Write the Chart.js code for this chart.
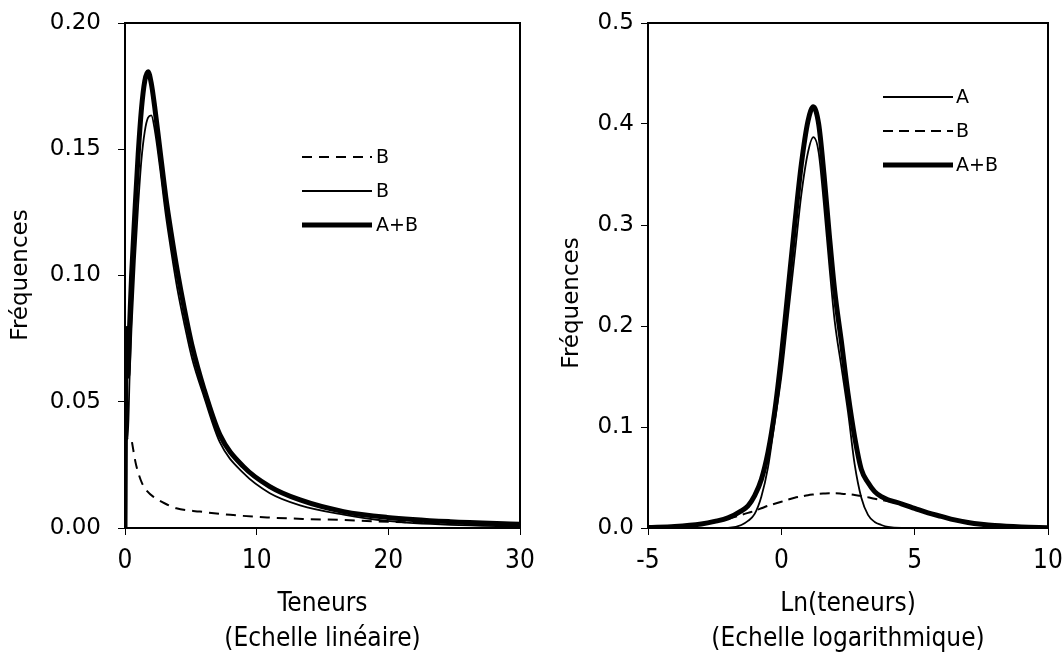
<!DOCTYPE html>
<html><head><meta charset="utf-8">
<script src="https://cdn.jsdelivr.net/npm/chart.js@4.4.1/dist/chart.umd.min.js"></script>
<style>
html,body{margin:0;padding:0;background:#fff;}
#wrap{position:relative;width:1062px;height:657px;overflow:hidden;}
.c{position:absolute;top:0;height:657px;}
</style></head><body>
<div id="wrap">
<div class="c" style="left:0;width:560px"><canvas id="left" width="560" height="657"></canvas></div>
<div class="c" style="left:531px;width:531px"><canvas id="right" width="531" height="657"></canvas></div>
</div>
<script>
// ---------- Left chart: linear scale ----------
const linX      = [0, 0.08, 0.2, 0.35, 0.5, 0.75, 1.0, 1.25, 1.5, 1.75, 2.0, 2.25, 2.65, 3.1, 3.5, 4.0, 4.5, 5.1, 6.0, 7.2, 9, 11, 13.3, 16.6, 19.9, 24.7, 30];
const linAB     = [0, 0.079, 0.06, 0.08, 0.10, 0.125, 0.148, 0.166, 0.177, 0.1807, 0.176, 0.167, 0.150, 0.131, 0.117, 0.101, 0.087, 0.072, 0.055, 0.037, 0.0243, 0.0164, 0.0111, 0.0065, 0.0042, 0.0025, 0.0015];
const linA      = [0, 0.05, 0.035, 0.06, 0.08, 0.106, 0.128, 0.146, 0.157, 0.1625, 0.1634, 0.158, 0.143, 0.124, 0.110, 0.094, 0.081, 0.067, 0.052, 0.034, 0.0217, 0.0138, 0.009, 0.0053, 0.0028, 0.0012, 0.0006];
const linBX     = [0.53, 0.8, 1.0, 1.3, 1.7, 2.15, 3.0, 3.9, 5.7, 8, 10.8, 13.5, 16.3, 18.8, 22, 26, 30];
const linB      = [0.034, 0.026, 0.022, 0.0177, 0.0145, 0.0124, 0.0098, 0.0078, 0.0065, 0.0052, 0.0042, 0.0036, 0.0032, 0.0027, 0.0022, 0.0017, 0.0013];
const linLabels = {dashed: 'B', thin: 'B', thick: 'A+B'};
const linXTitle = ['Teneurs', '(Echelle linéaire)'];

// ---------- Right chart: log scale ----------
const logX      = [-5, -4, -3, -2.5, -2, -1.5, -1.25, -1, -0.75, -0.5, -0.25, 0, 0.25, 0.5, 0.75, 1, 1.2, 1.4, 1.6, 1.8, 2, 2.25, 2.5, 2.75, 3, 3.25, 3.5, 3.75, 4, 4.5, 5, 5.5, 6, 6.5, 7, 7.5, 8, 9, 10];
const logA      = [0, 0, 0, 0, 0, 0.003, 0.007, 0.014, 0.031, 0.06, 0.105, 0.15, 0.21, 0.27, 0.33, 0.372, 0.387, 0.372, 0.32, 0.26, 0.205, 0.16, 0.115, 0.063, 0.03, 0.013, 0.006, 0.003, 0.001, 0, 0, 0, 0, 0, 0, 0, 0, 0, 0];
const logB      = [0.0005, 0.0015, 0.004, 0.0062, 0.009, 0.013, 0.015, 0.017, 0.0195, 0.022, 0.024, 0.026, 0.028, 0.030, 0.0313, 0.0325, 0.0332, 0.0338, 0.0341, 0.0343, 0.0343, 0.034, 0.0335, 0.0327, 0.0318, 0.0305, 0.029, 0.0278, 0.0265, 0.0235, 0.0195, 0.015, 0.0115, 0.008, 0.0055, 0.0037, 0.0024, 0.001, 0.0003];
const logAB     = [0.0005, 0.0015, 0.004, 0.0065, 0.010, 0.017, 0.022, 0.032, 0.048, 0.075, 0.115, 0.17, 0.235, 0.30, 0.36, 0.403, 0.417, 0.40, 0.35, 0.29, 0.235, 0.185, 0.133, 0.09, 0.058, 0.045, 0.036, 0.031, 0.028, 0.024, 0.0195, 0.015, 0.0115, 0.008, 0.0055, 0.0037, 0.0024, 0.001, 0.0003];
const logLabels = {thin: 'A', dashed: 'B', thick: 'A+B'};
const logXTitle = ['Ln(teneurs)', '(Echelle logarithmique)'];

const yTitle = 'Fréquences';

// ---------- helpers ----------
const pts = (xs, ys) => xs.map((x, i) => ({x: x, y: ys[i]}));
const NARROW = "'Liberation Sans Narrow', 'DejaVu Sans Condensed', 'Liberation Sans', sans-serif";
const SANS = "'DejaVu Sans', 'Liberation Sans', sans-serif";

const framePlugin = {
  id: 'frame',
  beforeDatasetsDraw(chart) {
    const a = chart.chartArea, ctx = chart.ctx;
    ctx.save();
    ctx.strokeStyle = '#000'; ctx.lineWidth = 2;
    ctx.strokeRect(a.left, a.top, a.right - a.left, a.bottom - a.top);
    ctx.restore();
  }
};
const legendPlugin = {
  id: 'inLegend',
  afterDatasetsDraw(chart, args, o) {
    const ctx = chart.ctx;
    ctx.save();
    o.items.forEach((it, i) => {
      const ds = chart.data.datasets[it];
      const y = o.y + i * o.rowGap;
      ctx.beginPath();
      ctx.setLineDash(ds.borderDash || []);
      ctx.lineWidth = ds.borderWidth;
      ctx.strokeStyle = ds.borderColor;
      ctx.moveTo(o.x, y);
      ctx.lineTo(o.x + o.lineLen, y);
      ctx.stroke();
      ctx.setLineDash([]);
      ctx.fillStyle = '#000';
      ctx.font = o.font;
      ctx.textBaseline = 'middle';
      ctx.textAlign = 'left';
      ctx.fillText(ds.label, o.x + o.textX, y + 1);
    });
    ctx.restore();
  }
};
const yTitlePlugin = {
  id: 'yTitle',
  afterDraw(chart, args, o) {
    const ctx = chart.ctx;
    ctx.save();
    ctx.translate(o.x, o.y);
    ctx.rotate(-Math.PI / 2);
    ctx.fillStyle = '#000';
    ctx.font = o.font;
    ctx.textAlign = 'center';
    ctx.textBaseline = 'middle';
    ctx.fillText(o.text, 0, 0);
    ctx.restore();
  }
};

function makeChart(id, cfg) {
  const grid = {display: true, drawOnChartArea: false, drawTicks: true, tickLength: 7, color: '#000', lineWidth: 1};
  return new Chart(document.getElementById(id), {
    type: 'line',
    data: {datasets: cfg.datasets},
    plugins: [framePlugin, legendPlugin, yTitlePlugin],
    options: {
      responsive: false, animation: false, devicePixelRatio: 1,
      layout: {padding: cfg.padding},
      elements: {point: {radius: 0}, line: {cubicInterpolationMode: 'monotone'}},
      plugins: {
        legend: {display: false}, tooltip: {enabled: false},
        inLegend: cfg.legend,
        yTitle: cfg.yTitle
      },
      scales: {
        x: {
          type: 'linear', min: cfg.xMin, max: cfg.xMax,
          ticks: {stepSize: cfg.xStep, color: '#000', font: {family: NARROW, size: 26}, padding: 11, maxRotation: 0},
          grid: grid, border: {display: false},
          title: {display: true, text: cfg.xTitle, color: '#000', font: {family: NARROW, size: 26, lineHeight: 1.35}, padding: 0},
          afterFit: s => { s.height = 129; s.paddingLeft = 0; s.paddingRight = 0; }
        },
        y: {
          type: 'linear', min: 0, max: cfg.yMax,
          ticks: {stepSize: cfg.yStep, color: '#000', font: {family: SANS, size: 23}, padding: cfg.yPad,
                  callback: v => v.toFixed(cfg.yDec)},
          grid: grid, border: {display: false},
          afterFit: s => { s.width = cfg.yWidth; s.paddingTop = 0; s.paddingBottom = 0; }
        }
      }
    }
  });
}

makeChart('left', {
  datasets: [
    {label: linLabels.thick, data: pts(linX, linAB), borderColor: '#000', borderWidth: 5},
    {label: linLabels.thin, data: pts(linX, linA), borderColor: '#000', borderWidth: 1.8},
    {label: linLabels.dashed, data: pts(linBX, linB), borderColor: '#000', borderWidth: 2, borderDash: [10, 7]}
  ],
  padding: {left: 0, right: 40, top: 23, bottom: 0},
  xMin: 0, xMax: 30, xStep: 10, xTitle: linXTitle,
  yMax: 0.2, yStep: 0.05, yDec: 2, yPad: 17, yWidth: 125,
  legend: {items: [2, 1, 0], x: 302, y: 157, rowGap: 34, lineLen: 70, textX: 74, font: "19px 'DejaVu Sans', sans-serif"},
  yTitle: {text: yTitle, x: 21, y: 275, font: "23px 'DejaVu Sans', sans-serif"}
});

makeChart('right', {
  datasets: [
    {label: logLabels.thick, data: pts(logX, logAB), borderColor: '#000', borderWidth: 5},
    {label: logLabels.thin, data: pts(logX, logA), borderColor: '#000', borderWidth: 1.8},
    {label: logLabels.dashed, data: pts(logX, logB), borderColor: '#000', borderWidth: 2, borderDash: [10, 6]}
  ],
  padding: {left: 0, right: 14, top: 23, bottom: 0},
  xMin: -5, xMax: 10, xStep: 5, xTitle: logXTitle,
  yMax: 0.5, yStep: 0.1, yDec: 1, yPad: 7, yWidth: 117,
  legend: {items: [1, 2, 0], x: 352, y: 97, rowGap: 34, lineLen: 70, textX: 73, font: "19px 'DejaVu Sans', sans-serif"},
  yTitle: {text: yTitle, x: 41, y: 303, font: "23px 'DejaVu Sans', sans-serif"}
});
</script>
</body></html>
